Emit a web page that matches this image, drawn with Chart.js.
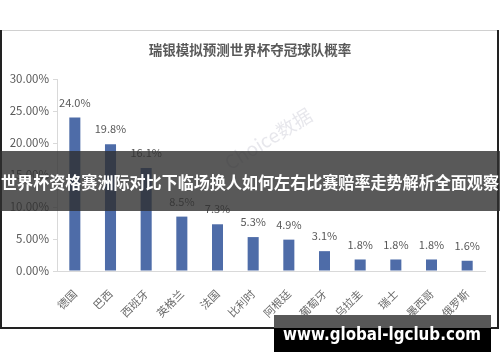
<!DOCTYPE html>
<html>
<head>
<meta charset="utf-8">
<script src="https://cdn.jsdelivr.net/npm/chart.js@4"></script>
<style>
  html, body { margin: 0; padding: 0; background: #fff; }
  #wrap { width: 500px; height: 362px; }
</style>
</head>
<body>
<div id="wrap"><canvas id="winChart" width="500" height="362"></canvas></div>
<script>
// data
var teams = ["德国", "巴西", "西班牙", "英格兰", "法国", "比利时", "阿根廷", "葡萄牙", "乌拉圭", "瑞士", "墨西哥", "俄罗斯"];
var winPct = [24.0, 19.8, 16.1, 8.5, 7.3, 5.3, 4.9, 3.1, 1.8, 1.8, 1.8, 1.6];
var yTicks = [0, 5, 10, 15, 20, 25, 30];

var chartTitle = "瑞银模拟预测世界杯夺冠球队概率";
var bannerText = "世界杯资格赛洲际对比下临场换人如何左右比赛赔率走势解析全面观察";
var siteText = "www.global-lgclub.com";

var FONT = "'Noto Sans CJK SC', 'Noto Sans', sans-serif";

/** frame + title, drawn under the chart **/
var framePlugin = {
  id: 'frame',
  beforeDraw: function(chart) {
    var c = chart.ctx;
    c.save();
    c.fillStyle = '#fff';
    c.fillRect(0, 0, 500, 362);
    c.strokeStyle = '#d0d0d0';
    c.lineWidth = 1;
    c.beginPath();
    c.moveTo(0, 30.5); c.lineTo(498, 30.5);
    c.stroke();
    c.strokeStyle = '#222';
    c.lineWidth = 2;
    c.beginPath();
    c.moveTo(1, 30); c.lineTo(1, 328); c.lineTo(498, 328); c.lineTo(498, 30);
    c.stroke();
    // faint watermark
    c.translate(272, 145);
    c.rotate(-0.55);
    c.fillStyle = 'rgba(185,185,200,0.35)';
    c.font = "19px " + FONT;
    c.textAlign = 'center';
    c.fillText('Choice数据', 0, 0);
    c.restore();

    c.save();
    c.fillStyle = '#595959';
    c.font = "bold 13.5px " + FONT;
    c.textAlign = 'center';
    c.textBaseline = 'middle';
    c.fillText(chartTitle, 250, 50);
    c.restore();
  }
};

/** value labels above bars **/
var valuePlugin = {
  id: 'values',
  afterDatasetsDraw: function(chart) {
    var c = chart.ctx;
    var meta = chart.getDatasetMeta(0);
    c.save();
    c.fillStyle = '#595959';
    c.font = "11px " + FONT;
    c.textAlign = 'center';
    c.textBaseline = 'middle';
    meta.data.forEach(function(bar, i) {
      c.fillText(winPct[i].toFixed(1) + '%', bar.x, bar.y - 15);
    });
    c.restore();
  }
};

/** overlay banner and site box **/
var overlayPlugin = {
  id: 'overlay',
  afterDraw: function(chart) {
    var c = chart.ctx;
    c.save();
    c.fillStyle = 'rgba(48,48,48,0.8)';
    c.fillRect(0, 151, 500, 60);
    c.fillStyle = '#fff';
    c.font = "bold 16.5px " + FONT;
    c.textAlign = 'center';
    c.textBaseline = 'middle';
    c.fillText(bannerText, 250, 183, 498);

    c.fillStyle = '#585858';
    c.fillRect(274, 315, 217, 13);
    c.fillStyle = '#000';
    c.fillRect(274, 328, 217, 24);
    c.fillStyle = '#fff';
    c.font = "bold 17px 'DejaVu Sans', sans-serif";
    c.fillText(siteText, 382, 336, 198);
    c.restore();
  }
};

var ctx = document.getElementById("winChart");
var winChart = new Chart(ctx, {
  type: 'bar',
  data: {
    labels: teams,
    datasets: [{
      data: winPct,
      backgroundColor: "#4e6ca8",
      barPercentage: 0.31,
      categoryPercentage: 1.0
    }]
  },
  options: {
    responsive: false,
    animation: false,
    events: [],
    layout: { padding: { top: 79, left: 0, right: 15, bottom: 0 } },
    plugins: {
      legend: { display: false },
      tooltip: { enabled: false }
    },
    scales: {
      x: {
        grid: { display: false, drawTicks: false },
        border: { color: '#d9d9d9' },
        ticks: {
          color: '#6a6a6a',
          font: { family: FONT, size: 11 },
          minRotation: 45,
          maxRotation: 45,
          padding: 16,
          autoSkip: false
        },
        afterFit: function(s) { s.height = 91; }
      },
      y: {
        min: 0,
        max: 30,
        afterBuildTicks: function(s) {
          s.ticks = yTicks.map(function(v) { return { value: v }; });
        },
        grid: { display: true, drawOnChartArea: false, tickLength: 4, color: '#d9d9d9' },
        border: { color: '#d9d9d9' },
        ticks: {
          color: '#595959',
          font: { family: FONT, size: 11.5 },
          padding: 4,
          callback: function(v) { return v.toFixed(2) + '%'; }
        },
        afterFit: function(s) { s.width = 57; }
      }
    }
  },
  plugins: [framePlugin, valuePlugin, overlayPlugin]
});
</script>
</body>
</html>
